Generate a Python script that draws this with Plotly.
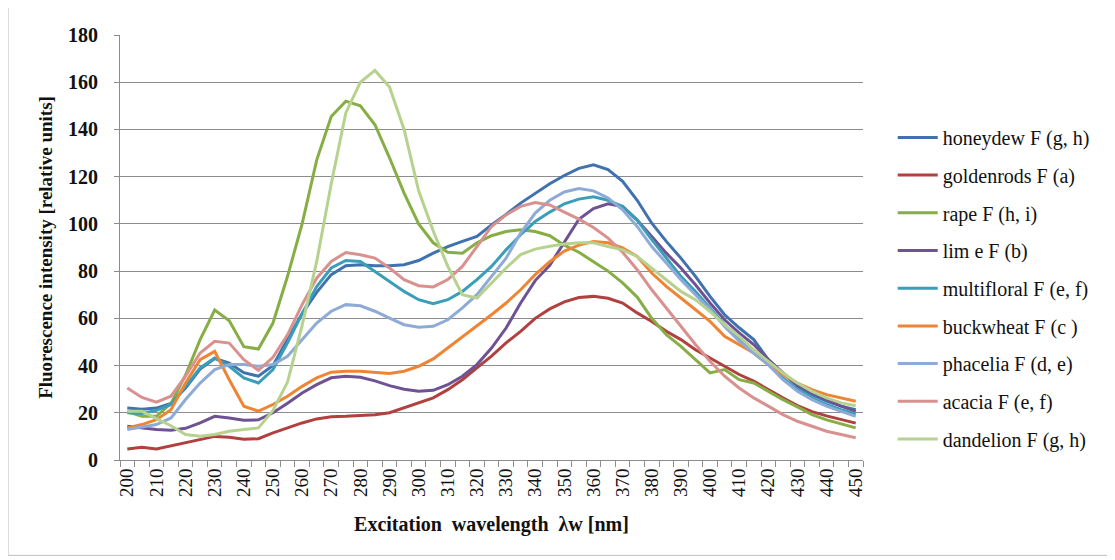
import plotly.graph_objects as go

# excitation wavelengths, 5 nm step
wavelength = list(range(200, 455, 5))
tick_vals = list(range(200, 460, 10))

honeydew = [22, 21.5, 22, 24, 30.5, 38.5, 43, 41, 37, 35.5, 40, 51, 62, 71, 78.5, 82.3, 82.7, 82.3, 82.3, 82.7,
            84.5, 87.6, 90.4, 92.6, 94.7, 99.6, 104, 108.8, 113, 117, 120.5, 123.5, 125, 123, 118, 110, 100.3,
            92.6, 85.5, 77.8, 69.3, 61.5, 56, 51, 42.5, 36.9, 31.2, 27.7, 24.9, 22.8, 21.3]
goldenrods = [4.7, 5.4, 4.7, 6, 7.2, 8.5, 10, 9.6, 8.8, 9, 11.5, 13.6, 15.7, 17.4, 18.3, 18.5, 18.8, 19.2, 20, 22,
              24, 26.3, 29.8, 34, 39, 44, 49.6, 54.5, 60, 64, 67, 68.8, 69.3, 68.5, 66.5, 62.3, 58.7, 54.5, 51,
              46.7, 43.2, 39.7, 36.2, 33.4, 29.8, 26.3, 23, 20.5, 18.7, 17.3, 15.6]
rape = [20.5, 18.5, 18.5, 24, 36, 51, 63.5, 59, 48, 47, 58, 77.8, 100, 127, 145.5, 152, 150, 142, 128, 113,
        100, 92, 88, 87.6, 92, 95, 96.8, 97.5, 96.8, 95, 91, 88, 84, 80, 75, 69, 60, 53.1, 48.1, 42.5, 36.9,
        38.3, 34, 32.6, 29.1, 25.6, 22.5, 19.2, 17, 15.4, 13.6]
lime = [14.3, 13.6, 12.9, 12.6, 13.4, 15.7, 18.5, 17.8, 16.8, 17, 20, 24, 28.4, 31.9, 34.8, 35.5, 35, 33.5, 31.5,
        30, 29.1, 29.5, 31.9, 35.5, 40.4, 47.4, 55.9, 66.5, 76, 82.5, 92, 102, 106.5, 108.5, 107.4, 101.6, 94.7,
        87.6, 81.3, 74.2, 66.5, 59.4, 53.8, 48.9, 42.5, 36.9, 31.9, 28.4, 25.6, 22.8, 20.6]
multifloral = [20, 19.7, 21, 23.5, 31.2, 39, 43.2, 39.7, 34.8, 32.6, 38.3, 49.6, 62, 73.5, 81.3, 84.5, 84.1, 79.9,
               75.6, 71.4, 67.9, 66.2, 67.9, 71.4, 76.4, 82, 89, 95.4, 101, 105, 108.5, 110.5, 111.5, 110, 107.4,
               101.6, 93.3, 85.5, 77.8, 71.4, 64.4, 57.3, 51, 45.3, 40.4, 34.8, 29.8, 26.3, 23.5, 21.3, 19.5]
buckwheat = [13.6, 15, 17.1, 21.3, 32.6, 42.5, 46, 34, 22.8, 20.7, 23.5, 27, 31.2, 34.8, 37.2, 37.6, 37.6, 37,
             36.6, 37.6, 39.7, 42.8, 47.4, 52.4, 56.9, 61.5, 66.5, 72.1, 78.5, 84, 88.5, 91, 92.5, 92, 89.8, 86.2,
             79.2, 73.5, 68.6, 63.7, 58.7, 52.4, 48.9, 45.3, 40.4, 36.2, 32.6, 29.8, 27.7, 26.3, 24.9]
phacelia = [12.9, 14, 15, 17.8, 25.6, 32.6, 38.3, 40.4, 40.4, 39.7, 40.4, 43.9, 51, 58, 63, 65.8, 65.3, 63, 60.1,
            57.3, 56.2, 56.6, 59.4, 64.4, 70, 77.8, 85.5, 96.1, 104.6, 110, 113.5, 115, 114, 111, 106, 98.9, 90.4,
            83.4, 76.4, 70, 63.7, 56.6, 50.3, 45.3, 40.4, 34, 29.1, 25.6, 22.8, 20.6, 18.5]
acacia = [30.5, 26.5, 24.5, 27, 35.5, 45.3, 50.3, 49.5, 42.5, 38, 43.5, 53, 65.8, 77, 84.1, 87.9, 86.9, 85.5,
          81.3, 76.4, 73.8, 73.3, 76.4, 82, 90.4, 98.9, 103.8, 107.4, 109, 108, 105, 102, 98.5, 94, 88, 80.6,
          72.1, 64.4, 56.6, 48.9, 41.8, 35.5, 30.5, 26.3, 22.8, 19.2, 16.4, 14.3, 12.2, 10.8, 9.4]
dandelion = [20.7, 20.7, 17.5, 14.5, 10.8, 10.1, 10.8, 12.2, 12.9, 13.6, 21, 33, 57, 84, 117, 147, 160, 165, 158,
             140, 114, 97, 82, 70, 68.6, 75, 81.3, 87, 89.3, 90.5, 91.5, 92, 92, 90.4, 89, 86.2, 81.3, 76.4,
             71.4, 67.9, 62.9, 57.3, 52.4, 46.7, 41.8, 36.9, 32.6, 29.1, 26.3, 24.2, 23]

series = [
    ("honeydew F (g, h)", honeydew, "#3F72AE"),
    ("goldenrods F (a)", goldenrods, "#B0413E"),
    ("rape F (h, i)", rape, "#86AE45"),
    ("lim e F (b)", lime, "#6E5294"),
    ("multifloral F (e, f)", multifloral, "#3A9EB8"),
    ("buckwheat F (c )", buckwheat, "#EF8534"),
    ("phacelia F (d, e)", phacelia, "#8EABD7"),
    ("acacia F (e, f)", acacia, "#D9918F"),
    ("dandelion F (g, h)", dandelion, "#B7D28F"),
]

serif = "Liberation Serif, Times New Roman, serif"
grid_col = "#8C8C8C"

fig = go.Figure()
for name, vals, col in series:
    fig.add_trace(go.Scatter(
        x=wavelength, y=vals, mode="lines", name=name,
        legendgroup=name,
        line=dict(color=col, width=3),
    ))

# page body has an 8px margin, so the figure is 8px smaller on each side
fig.update_layout(
    width=1107, height=552,
    margin=dict(l=112, r=252, t=27, b=99.5),
    plot_bgcolor="white", paper_bgcolor="white",
    font=dict(family=serif, color="#111", size=18),
    legend=dict(
        x=1.04, xanchor="left", y=0.805, yanchor="top",
        font=dict(family=serif, size=20, color="#111"),
        tracegroupgap=8.7, itemwidth=40,
    ),
    shapes=[dict(type="rect", xref="paper", yref="paper",
                 x0=-0.1507, x1=1.3297, y0=-0.2244, y1=1.0776,
                 line=dict(color="#BFBFBF", width=1), layer="below")],
)

fig.update_xaxes(
    range=[197.5, 452.5],
    tickvals=tick_vals,
    ticktext=[str(v) for v in tick_vals],
    tickangle=-90,
    ticks="",
    tickfont=dict(family=serif, size=19),
    showgrid=False, zeroline=False,
    showline=True, linecolor=grid_col, linewidth=1,
    minor=dict(ticks="outside", tick0=197.5, dtick=5, ticklen=6, tickcolor=grid_col, showgrid=False),
    title=dict(text="<b>Excitation\u00a0 wavelength\u00a0 λw [nm]</b>", font=dict(family=serif, size=20), standoff=20),
)
fig.update_yaxes(
    range=[0, 180], dtick=20,
    ticks="outside", ticklen=5, tickcolor=grid_col,
    tickfont=dict(family=serif, size=20),
    tickprefix="<b>", ticksuffix="</b>",
    ticklabelstandoff=12,
    showgrid=True, gridcolor=grid_col, gridwidth=1,
    zeroline=False,
    showline=True, linecolor=grid_col, linewidth=1,
    title=dict(text="<b>Fluorescence intensity [relative units]</b>", font=dict(family=serif, size=19), standoff=10),
)

fig.write_html("out.html")
